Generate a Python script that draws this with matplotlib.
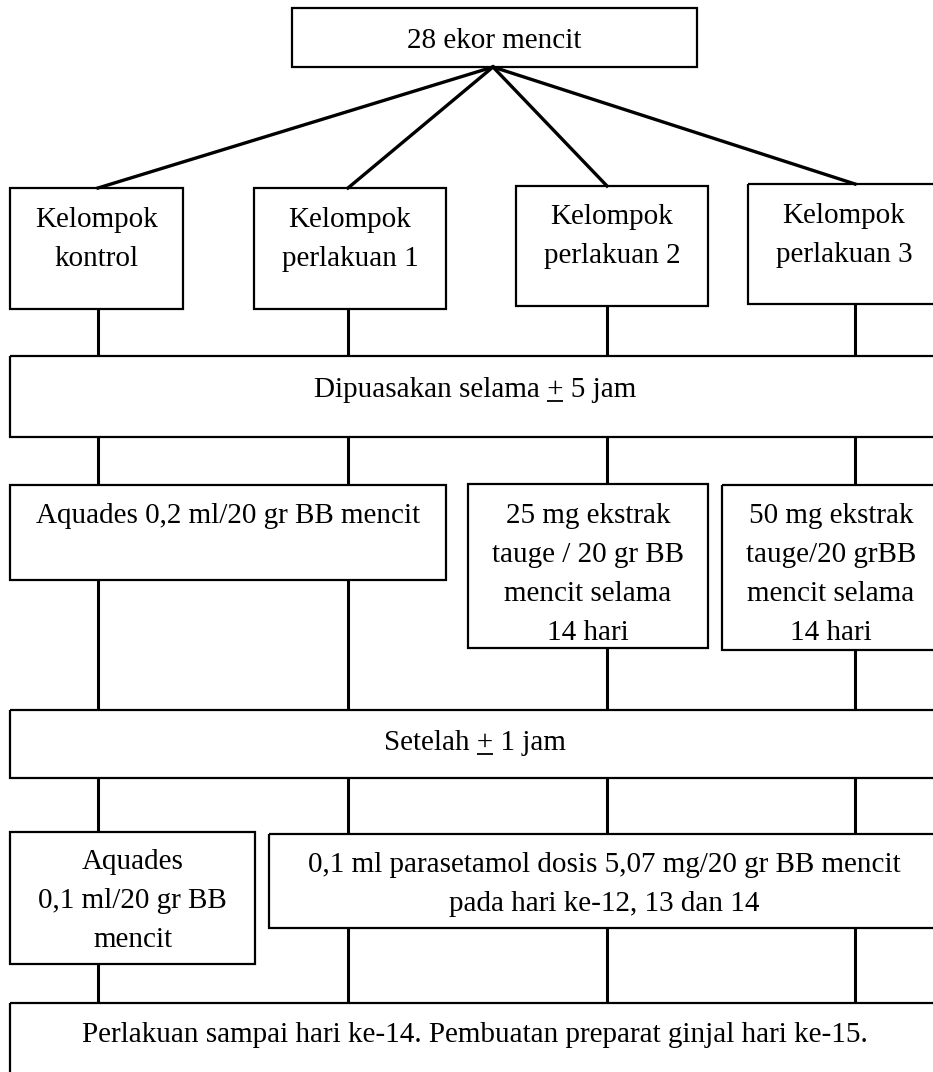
import matplotlib.pyplot as plt
from matplotlib.patches import Rectangle

W, H = 933, 1072

# box texts
top_text = "28 ekor mencit"
group_texts = ["Kelompok\nkontrol", "Kelompok\nperlakuan 1",
               "Kelompok\nperlakuan 2", "Kelompok\nperlakuan 3"]
fast_text = "Dipuasakan selama + 5 jam"
dose_texts = ["Aquades 0,2 ml/20 gr BB mencit",
              "25 mg ekstrak\ntauge / 20 gr BB\nmencit selama\n14 hari",
              "50 mg ekstrak\ntauge/20 grBB\nmencit selama\n14 hari"]
wait_text = "Setelah + 1 jam"
para_texts = ["Aquades\n0,1 ml/20 gr BB\nmencit",
              "0,1 ml parasetamol dosis 5,07 mg/20 gr BB mencit\npada hari ke-12, 13 dan 14"]
end_text = "Perlakuan sampai hari ke-14. Pembuatan preparat ginjal hari ke-15."

# layout (pixels): x0, y0, x1, y1, first baseline
col_x = [98, 348, 607, 855]
top_box = (292, 8, 697, 67, 48)
group_boxes = [(10, 188, 183, 309, 227), (254, 188, 446, 309, 227),
               (516, 186, 708, 306, 224), (748, 184, 940, 304, 223)]
fast_box = (10, 356, 940, 437, 397)
dose_boxes = [(10, 485, 446, 580, 523), (468, 484, 708, 648, 523),
              (722, 485, 940, 650, 523)]
wait_box = (10, 710, 940, 778, 750)
para_boxes = [(10, 832, 255, 964, 869), (269, 834, 940, 928, 872)]
end_box = (10, 1003, 940, 1090, 1042)
LINE_STEP = 39

plt.rcParams['font.family'] = ['Liberation Serif', 'DejaVu Serif']
FS = 21

fig = plt.figure(figsize=(W / 100, H / 100), dpi=100)
ax = fig.add_axes([0, 0, 1, 1])
ax.set_xlim(0, W)
ax.set_ylim(H, 0)
ax.axis('off')
renderer = fig.canvas.get_renderer()


def text_width(s):
    t = ax.text(0, 0, s, fontsize=FS)
    w = t.get_window_extent(renderer).width
    t.remove()
    return w


def box(b, text, lw=1.6):
    x0, y0, x1, y1, ty = b
    ax.add_patch(Rectangle((x0, y0), x1 - x0, y1 - y0, fill=False,
                           ec='black', lw=lw, zorder=2))
    cx = (x0 + x1) / 2
    for i, line in enumerate(text.split('\n')):
        by = ty + i * LINE_STEP
        ax.text(cx, by, line, ha='center', va='baseline', fontsize=FS, zorder=3)
        # Word-style underlined plus (+) for "kurang lebih"
        if ' + ' in line:
            full = text_width(line)
            upto = text_width(line[:line.index('+') + 1])
            plus = text_width('+')
            left = cx - full / 2 + upto - plus
            ax.plot([left, left + plus], [by + 4, by + 4], color='black',
                    lw=1.3, solid_capstyle='butt', zorder=3)


def vline(x, y0, y1):
    ax.plot([x, x], [y0, y1], color='black', lw=2.2, zorder=1,
            solid_capstyle='butt')


def pick(boxes, x):
    for b in boxes:
        if b[0] <= x <= b[2]:
            return b
    return boxes[-1]


# top
box(top_box, top_text)
apex = (493, top_box[3])
for cx, b in zip(col_x, group_boxes):
    ax.plot([apex[0], cx], [apex[1], b[1]], color='black', lw=2.4, zorder=1)

for b, t in zip(group_boxes, group_texts):
    box(b, t)

# group -> fasting
for cx, b in zip(col_x, group_boxes):
    vline(cx, b[3], fast_box[1])
box(fast_box, fast_text)

# fasting -> doses -> wait
for cx in col_x:
    b = pick(dose_boxes, cx)
    vline(cx, fast_box[3], b[1])
    vline(cx, b[3], wait_box[1])
for b, t in zip(dose_boxes, dose_texts):
    box(b, t)
box(wait_box, wait_text)

# wait -> paracetamol -> end
for cx in col_x:
    b = pick(para_boxes, cx)
    vline(cx, wait_box[3], b[1])
    vline(cx, b[3], end_box[1])
for b, t in zip(para_boxes, para_texts):
    box(b, t)
box(end_box, end_text)

fig.savefig('out.png', dpi=100, facecolor='white')
